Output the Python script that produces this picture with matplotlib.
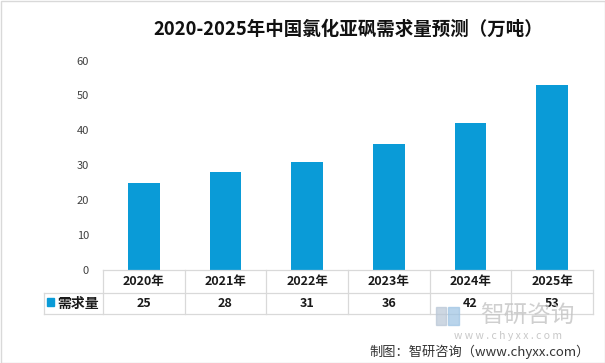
import matplotlib
matplotlib.use("Agg")
import matplotlib.pyplot as plt
from matplotlib.patches import Rectangle
import matplotlib.transforms as mtransforms

plt.rcParams['font.family'] = ['Noto Sans CJK SC', 'DejaVu Sans']

# Data
years = ['2020年', '2021年', '2022年', '2023年', '2024年', '2025年']
demand = [25, 28, 31, 36, 42, 53]
series_name = '需求量'
title = '2020-2025年中国氯化亚砜需求量预测（万吨）'
source = '制图：智研咨询（www.chyxx.com）'

BAR_COLOR = '#0a9bd7'
GRID_COLOR = '#d9d9d9'

W, H = 605, 363
fig = plt.figure(figsize=(W / 100, H / 100), dpi=100)

# axes placed in pixel terms: x 103..593, y 60.6..270
ax_left, ax_right, ax_top, ax_bottom = 103, 593, 60.6, 270
ax = fig.add_axes([ax_left / W, 1 - ax_bottom / H,
                   (ax_right - ax_left) / W, (ax_bottom - ax_top) / H])

x = list(range(len(years)))
ax.bar(x, demand, width=0.39, color=BAR_COLOR, zorder=2)
ax.set_xlim(-0.5, len(years) - 0.5)
ax.set_ylim(0, 60)
ax.set_yticks(range(0, 61, 10))
ax.tick_params(axis='y', length=0, pad=10, labelsize=8, labelcolor='#404040')
ax.set_xticks([])
for s in ax.spines.values():
    s.set_visible(False)

# data table below the plot
ax_h = ax_bottom - ax_top
col_w = (ax_right - ax_left) / len(years)

def yfrac(py):
    return (ax_bottom - py) / ax_h

tr = mtransforms.blended_transform_factory(ax.transData, ax.transAxes)
y_top, y_mid, y_bot = yfrac(270), yfrac(293), yfrac(314)
x_leg = -0.5 - (ax_left - 44) / col_w

line_kw = dict(color=GRID_COLOR, lw=0.9, transform=tr, clip_on=False)
ax.plot([-0.5, len(years) - 0.5], [y_top, y_top], **line_kw)
ax.plot([x_leg, len(years) - 0.5], [y_mid, y_mid], **line_kw)
ax.plot([x_leg, len(years) - 0.5], [y_bot, y_bot], **line_kw)
ax.plot([x_leg, x_leg], [y_mid, y_bot], **line_kw)
for i in range(len(years) + 1):
    ax.plot([i - 0.5, i - 0.5], [y_top, y_bot], **line_kw)

for i, (yr, v) in enumerate(zip(years, demand)):
    ax.text(i, (y_top + y_mid) / 2, yr, transform=tr, ha='center', va='center',
            fontsize=9, fontweight='bold', color='#1a1a1a')
    ax.text(i, (y_mid + y_bot) / 2, str(v), transform=tr, ha='center', va='center',
            fontsize=9, fontweight='bold', color='#1a1a1a', zorder=5)

# legend key in the table
fig.patches.append(Rectangle((47 / W, 1 - 306 / H), 7 / W, 8 / H,
                             transform=fig.transFigure, color=BAR_COLOR))
fig.text(57 / W, 1 - 303.5 / H, series_name, ha='left', va='center',
         fontsize=10, fontweight='bold', color='#1a1a1a')

# title
fig.text(348 / W, 1 - 29 / H, title, ha='center', va='center',
         fontsize=13.3, fontweight='bold', color='#111111')

# watermark
fig.patches.append(Rectangle((436 / W, 1 - 325 / H), 10 / W, 18 / H,
                             transform=fig.transFigure, color='#b8c6d6', alpha=0.7))
fig.patches.append(Rectangle((448 / W, 1 - 325 / H), 11 / W, 18 / H,
                             transform=fig.transFigure, color='#9cc3e3', alpha=0.7))
fig.text(527 / W, 1 - 316 / H, '智研咨询', ha='center', va='center',
         fontsize=17, color='#c4c4c4', alpha=0.8)
fig.text(508 / W, 1 - 336 / H, 'w w w . c h y x x . c o m', ha='center', va='center',
         fontsize=7.5, color='#c8c8c8')

# source
fig.text(590 / W, 1 - 352 / H, source, ha='right', va='center',
         fontsize=9.5, color='#333333')

# light frame around the picture
fig.patches.append(Rectangle((0.5 / W, 0.5 / H), 1 - 1 / W, 1 - 1 / H,
                             transform=fig.transFigure, fill=False,
                             edgecolor='#d9d9d9', lw=1))

fig.savefig('out.png', dpi=100)
